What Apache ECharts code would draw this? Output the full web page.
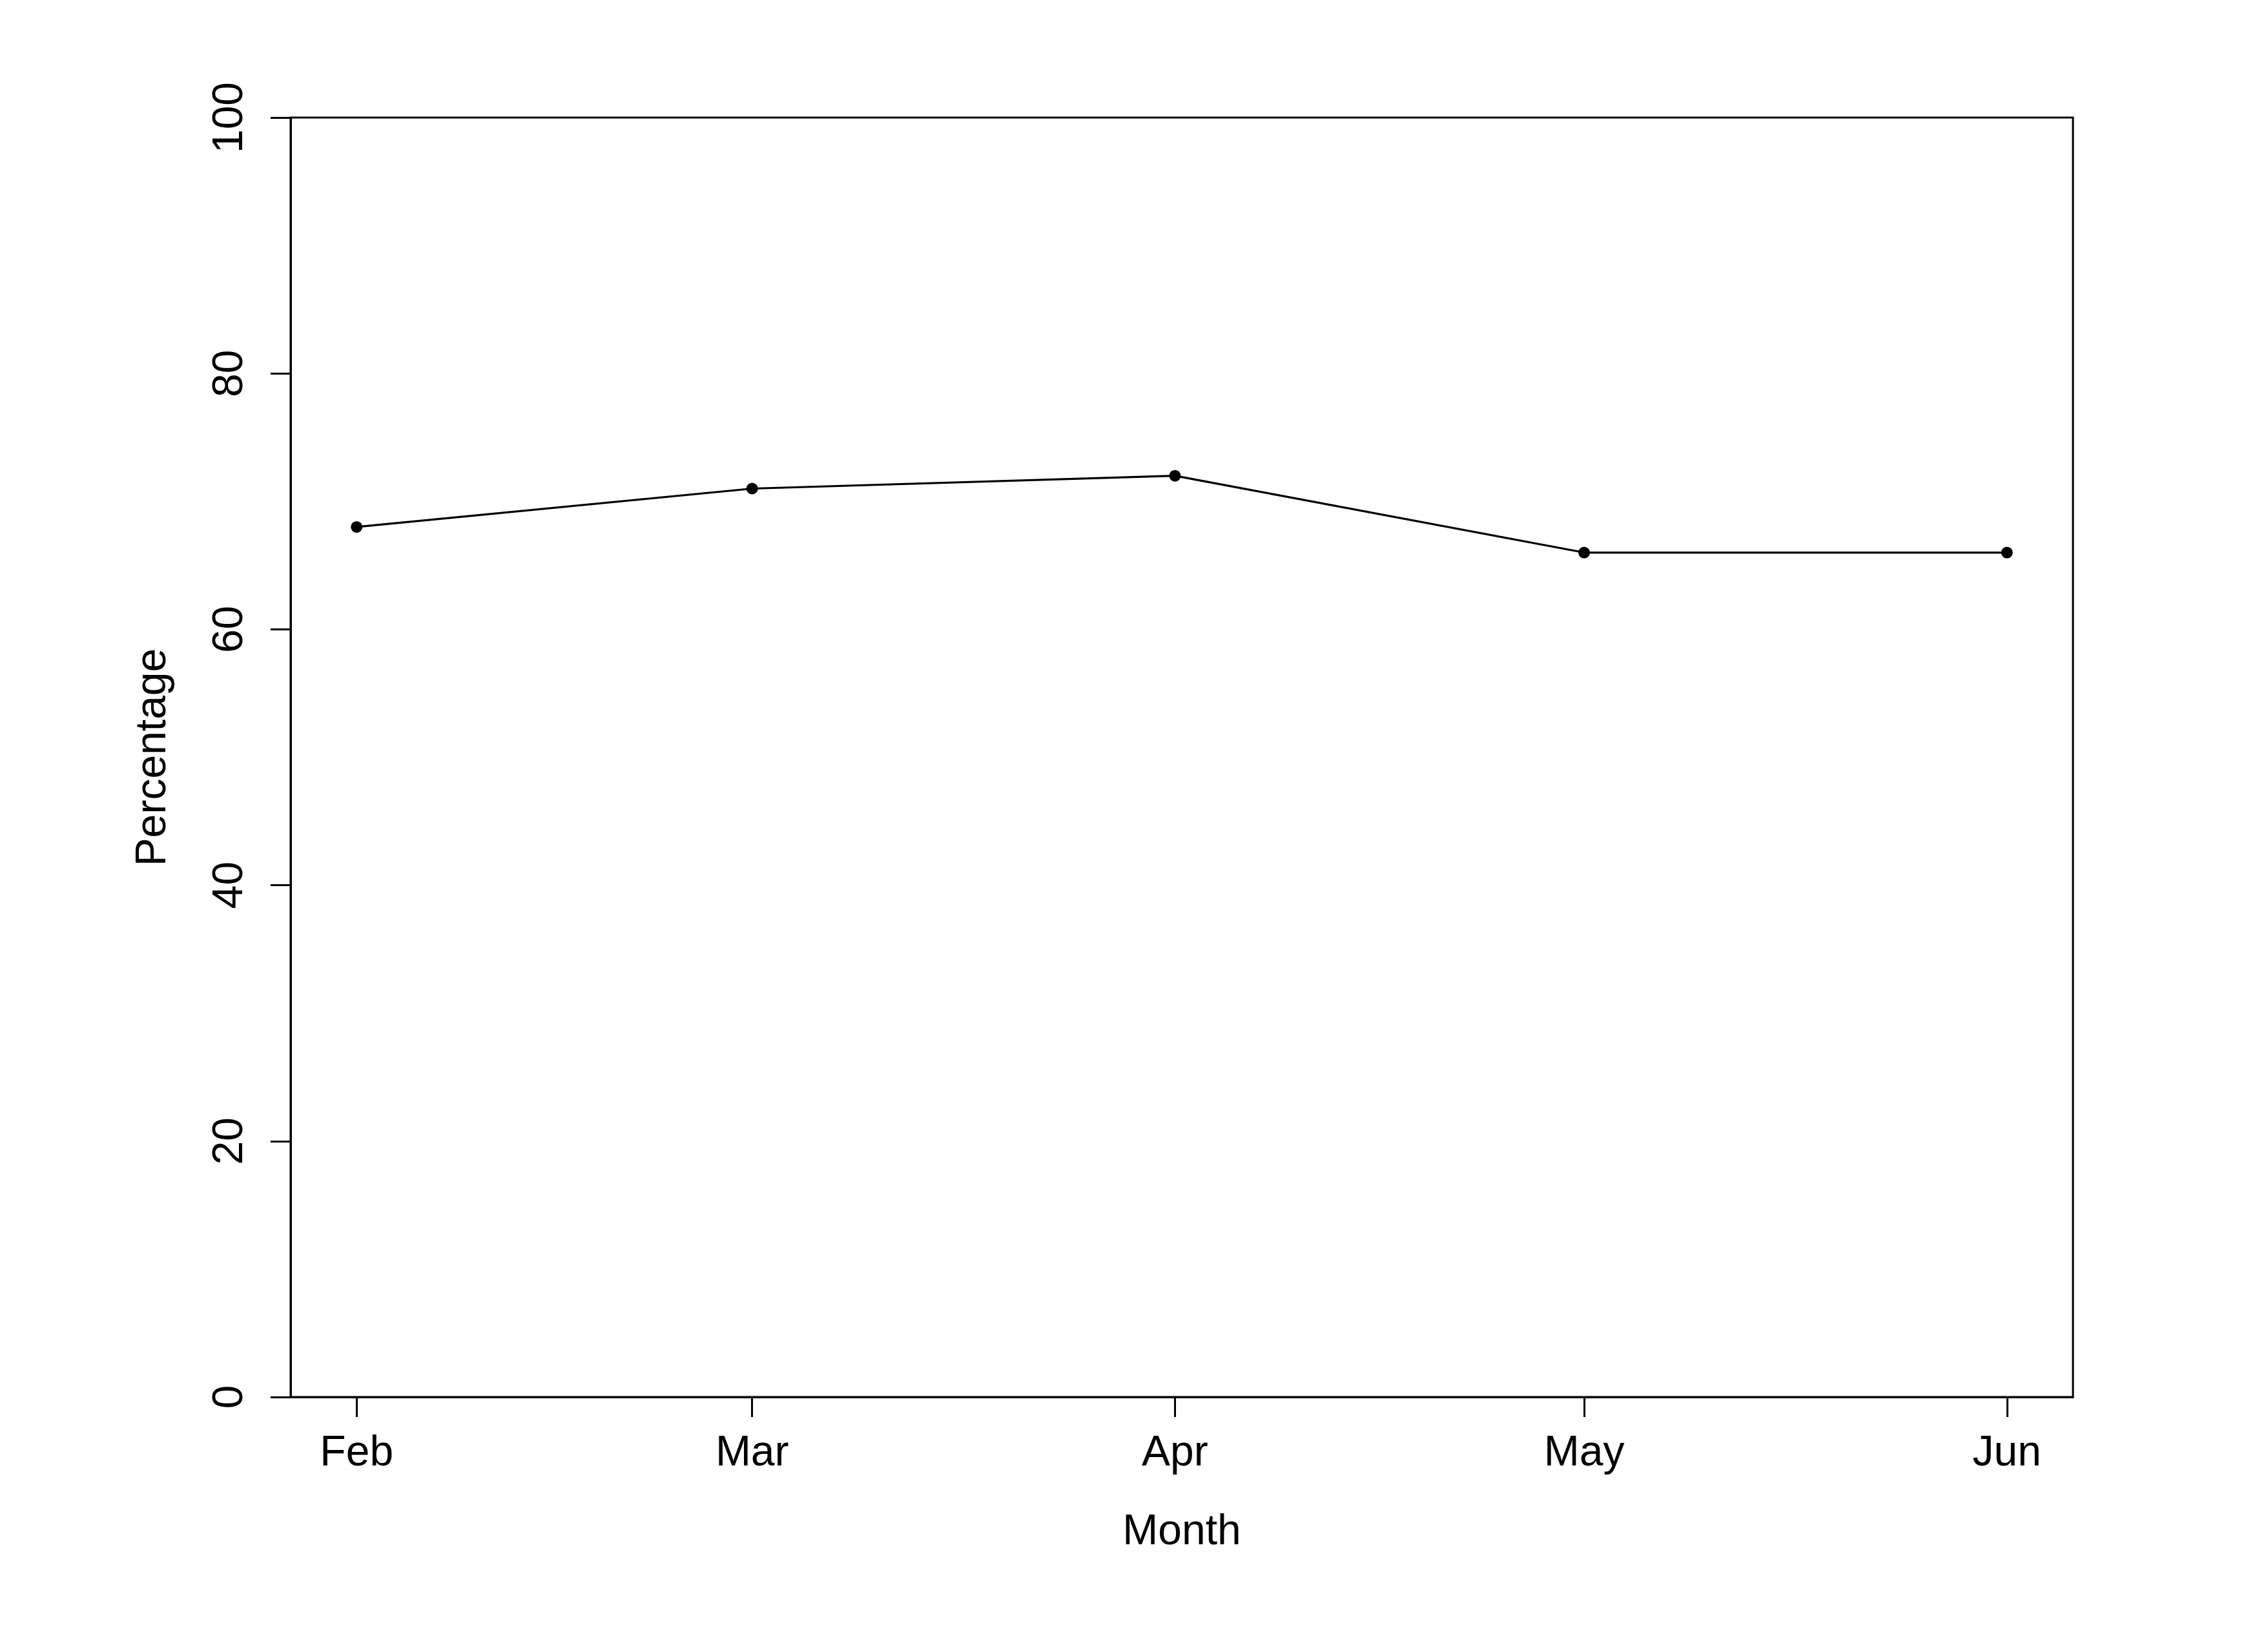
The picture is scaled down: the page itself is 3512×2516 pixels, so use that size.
<!DOCTYPE html>
<html>
<head>
<meta charset="utf-8">
<script src="https://cdn.jsdelivr.net/npm/echarts@6/dist/echarts.min.js"></script>
<style>
html,body{margin:0;padding:0;background:#fff;}
#chart{width:3512px;height:2516px;}
</style>
</head>
<body>
<div id="chart"></div>
<script>
// Data
const dates = ['2024-02-01', '2024-03-01', '2024-04-01', '2024-05-01', '2024-06-01'];
const monthLabels = ['Feb', 'Mar', 'Apr', 'May', 'Jun'];
const percentages = [68, 71, 72, 66, 66];
const yTicks = [0, 20, 40, 60, 80, 100];

const DAY = 86400000;
const ts = dates.map(d => Math.round(new Date(d + 'T00:00:00Z').getTime() / DAY)); // day numbers
const tMin = Math.min(...ts), tMax = Math.max(...ts);
const pad = (tMax - tMin) * 0.04;
const labelMap = {};
ts.forEach((t, i) => { labelMap[t] = monthLabels[i]; });

const FONT = '"Liberation Sans", Arial, Helvetica, sans-serif';
const chart = echarts.init(document.getElementById('chart'), null, {renderer: 'canvas'});
chart.setOption({
  backgroundColor: '#fff',
  animation: false,
  grid: {
    left: 450, right: 302, top: 182, bottom: 353,
    show: true, borderColor: '#000', borderWidth: 3, backgroundColor: 'transparent',
    containLabel: false
  },
  xAxis: {
    type: 'value',
    min: tMin - pad,
    max: tMax + pad,
    name: 'Month',
    nameLocation: 'middle',
    nameGap: 177,
    nameTextStyle: {fontFamily: FONT, fontSize: 66, color: '#000'},
    axisLine: {show: true, onZero: false, lineStyle: {color: '#000', width: 3}},
    axisTick: {show: true, length: 31, lineStyle: {color: '#000', width: 3}, customValues: ts},
    axisLabel: {
      show: true, customValues: ts, margin: 55,
      fontFamily: FONT, fontSize: 66, color: '#000',
      formatter: v => labelMap[Math.round(v)] || ''
    },
    splitLine: {show: false}
  },
  yAxis: {
    type: 'value',
    min: 0, max: 100, interval: 20,
    name: 'Percentage',
    nameLocation: 'middle',
    nameGap: 179,
    nameRotate: 90,
    nameTextStyle: {fontFamily: FONT, fontSize: 66, color: '#000'},
    axisLine: {show: true, lineStyle: {color: '#000', width: 3}},
    axisTick: {show: true, length: 31, lineStyle: {color: '#000', width: 3}},
    axisLabel: {
      rotate: 90, margin: 60,
      fontFamily: FONT, fontSize: 66, color: '#000',
      formatter: v => yTicks.includes(v) ? String(v) : ''
    },
    splitLine: {show: false}
  },
  series: [{
    type: 'line',
    data: ts.map((t, i) => [t, percentages[i]]),
    symbol: 'circle',
    symbolSize: 18,
    lineStyle: {color: '#000', width: 3.2},
    itemStyle: {color: '#000'}
  }]
});
</script>
</body>
</html>
